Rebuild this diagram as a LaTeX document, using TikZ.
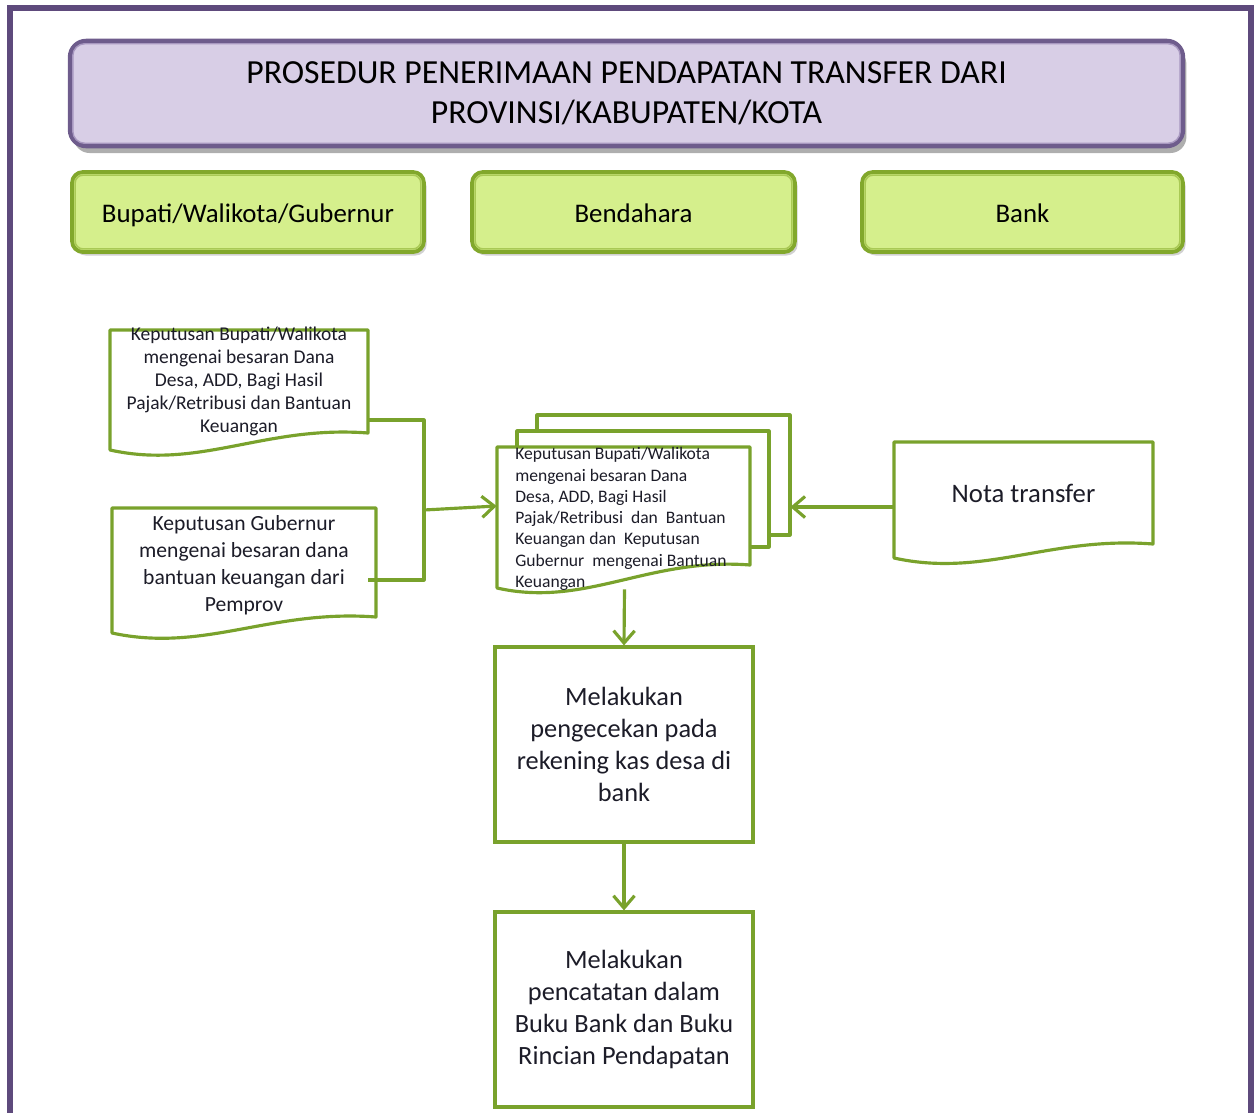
\documentclass[tikz,border=0pt]{standalone}
\usepackage{fontspec}
\setmainfont{Carlito}
\usetikzlibrary{arrows.meta,shadows,calc}

\definecolor{framepurple}{HTML}{5E4A7C}
\definecolor{titlefill}{HTML}{D8CEE6}
\definecolor{titleedge}{HTML}{6E5C8C}
\definecolor{titleinner}{HTML}{A898C0}
\definecolor{rolefill}{HTML}{D5EF8C}
\definecolor{roleedge}{HTML}{82A82C}
\definecolor{roleinner}{HTML}{A9C955}
\definecolor{flowgreen}{HTML}{79A22C}
\definecolor{inkcol}{HTML}{1C1C28}

% document symbol: straight top and sides, wavy bottom edge
% #1 left, #2 right, #3 top, #4 bottom of right side, #5 extra drop of left side
\newcommand\docshape[5]{%
  \draw[flow,fill=white] (#2,#4) -- (#2,#3) -- (#1,#3) -- (#1,{#4+#5})
    .. controls ({#1+0.35*(#2-#1)},{#4+#5+20}) and ({#1+0.6*(#2-#1)},{#4-8}) .. (#2,#4) -- cycle;}

\tikzset{
  flow/.style={draw=flowgreen, line width=1.8pt, line join=round},
  arr/.style={flow, -{Straight Barb[length=7pt,width=12pt,line width=1.8pt]}},
  plain/.style={inner sep=0pt, align=center, text=inkcol},
  titlebox/.style={draw=titleedge, line width=2.6pt, fill=titlefill, rounded corners=0.32cm,
    minimum width=22.26cm, minimum height=2.1cm, align=center, text=black,
    font=\fontsize{19.2}{22.8}\selectfont,
    drop shadow={shadow xshift=2pt, shadow yshift=-4pt, opacity=0.45, fill=black!70}},
  rolebox/.style={draw=roleedge, line width=2.2pt, fill=rolefill, rounded corners=0.22cm,
    minimum height=1.6cm, align=center, text=black, font=\fontsize{15.3}{18}\selectfont,
    text height=13.5pt, text depth=1.5pt,
    drop shadow={shadow xshift=1.5pt, shadow yshift=-2pt, opacity=0.3, fill=black!60}},
  procbox/.style={plain, draw=flowgreen, line width=1.8pt, minimum width=5.16cm,
    minimum height=3.9cm, font=\fontsize{15}{18.2}\selectfont},
}

\begin{document}
\begin{tikzpicture}[x=0.02cm,y=-0.02cm]
\useasboundingbox (0,0) rectangle (1259,1113);

% outer frame
\draw[framepurple, line width=2.9pt] (10,1130) -- (10,8) -- (1251,8) -- (1251,1130);

% heading
\node[titlebox] (title) at (626.5,93.5)
  {PROSEDUR PENERIMAAN PENDAPATAN TRANSFER DARI\\PROVINSI/KABUPATEN/KOTA};
\draw[titleinner, line width=0.8pt, rounded corners=0.24cm]
  ($(title.north west)+(5,5)$) rectangle ($(title.south east)+(-5,-5)$);

% role headers
\node[rolebox, minimum width=7.04cm] (g1) at (248,212) {Bupati/Walikota/Gubernur};
\node[rolebox, minimum width=6.46cm] (g2) at (633.5,212) {Bendahara};
\node[rolebox, minimum width=6.42cm] (g3) at (1022.5,212) {Bank};
\foreach \g in {g1,g2,g3}
  \draw[roleinner, line width=0.9pt, rounded corners=0.16cm]
    ($(\g.north west)+(5,5)$) rectangle ($(\g.south east)+(-5,-5)$);

% source documents
\docshape{110}{368}{330}{433}{17}
\node[plain, minimum width=5.16cm, minimum height=2.06cm, font=\fontsize{11.1}{13.1}\selectfont] (d1) at (239,381.5)
  {Keputusan Bupati/Walikota\\mengenai besaran Dana\\Desa, ADD, Bagi Hasil\\Pajak/Retribusi dan Bantuan\\Keuangan};

\docshape{112}{376}{508}{617}{16}
\node[plain, minimum width=5.28cm, minimum height=2.18cm, font=\fontsize{12.3}{15.4}\selectfont] (d2) at (244,565)
  {Keputusan Gubernur\\mengenai besaran dana\\bantuan keuangan dari\\Pemprov};

% stacked documents
\draw[flow,fill=white] (537,415) rectangle (790,535);
\node[plain, minimum width=5.06cm, minimum height=2.4cm] (bd) at (663.5,475) {};
\draw[flow,fill=white] (517,431) rectangle (769,547);
\docshape{497}{750}{447}{565}{23}
\node[plain, minimum width=5.06cm, minimum height=2.36cm] (md) at (623.5,506) {};
\node[plain, anchor=west, align=left, font=\fontsize{10}{12.1}\selectfont] (mdt) at (515,519)
  {Keputusan Bupati/Walikota\\mengenai besaran Dana\\Desa, ADD, Bagi Hasil\\Pajak/Retribusi~ dan~ Bantuan\\Keuangan dan~ Keputusan\\Gubernur~ mengenai Bantuan\\Keuangan};

% bank note
\docshape{894}{1153}{442}{544}{14}
\node[plain, minimum width=5.18cm, minimum height=2.04cm, font=\fontsize{15.2}{17}\selectfont] (nt) at (1023.5,493) {Nota transfer};

% process steps
\node[procbox] (b1) at (624,744.5) {Melakukan\\pengecekan pada\\rekening kas desa di\\bank};
\node[procbox] (b2) at (624,1009.5) {Melakukan\\pencatatan dalam\\Buku Bank dan Buku\\Rincian Pendapatan};

% connectors
\coordinate (j1) at (424,420);
\coordinate (j2) at (424,580);
\coordinate (jm) at (424,510);
\draw[flow] (d1.east |- j1) -- (j1) -- (j2) -- ($(d2.east |- j2)+(-8,0)$);
\draw[arr] (jm) -- (md.west);
\draw[arr] ($(nt.west)+(0,14)$) -- ($(bd.east)+(0,32)$);
\draw[arr] ($(md.south)+(1,24)$) -- (b1.north);
\draw[arr] (b1.south) -- (b2.north);
\end{tikzpicture}
\end{document}
